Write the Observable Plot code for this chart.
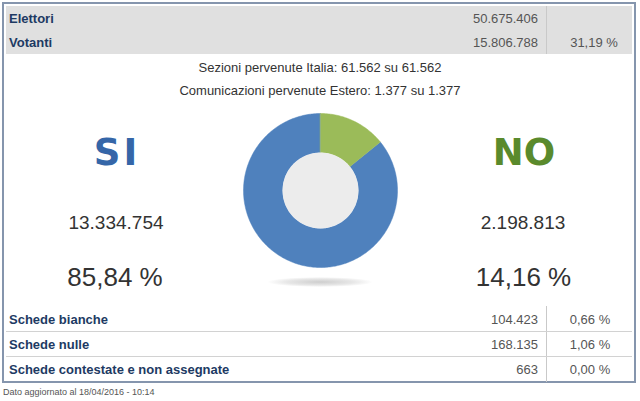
<!DOCTYPE html>
<html>
<head>
<meta charset="utf-8">
<script src="https://cdn.jsdelivr.net/npm/d3@7"></script>
<script src="https://cdn.jsdelivr.net/npm/@observablehq/plot@0.6"></script>
<style>
  html, body { margin: 0; padding: 0; background: #fff; }
  #root { position: relative; width: 640px; height: 401px; overflow: hidden; font-family: "Liberation Sans", Arial, sans-serif; }
  .abs { position: absolute; white-space: nowrap; line-height: 1; }
</style>
</head>
<body>
<div id="root"></div>
<script>
// ---- data ----
const categories = ["SI", "NO"];
const votes = [13334754, 2198813];
const voteLabels = ["13.334.754", "2.198.813"];
const percentLabels = ["85,84 %", "14,16 %"];

const headerLabels = ["Elettori", "Votanti"];
const headerValues = ["50.675.406", "15.806.788"];
const headerPercents = ["", "31,19 %"];

const infoLines = ["Sezioni pervenute Italia: 61.562 su 61.562", "Comunicazioni pervenute Estero: 1.377 su 1.377"];

const schedeLabels = ["Schede bianche", "Schede nulle", "Schede contestate e non assegnate"];
const schedeValues = ["104.423", "168.135", "663"];
const schedePercents = ["0,66 %", "1,06 %", "0,00 %"];

const footer = "Dato aggiornato al 18/04/2016 - 10:14";

// ---- layout helpers ----
const root = document.getElementById("root");
function box(css) {
  const d = document.createElement("div");
  d.style.position = "absolute";
  Object.assign(d.style, css);
  root.appendChild(d);
  return d;
}
function text(str, css, anchor) {
  const d = document.createElement("div");
  d.className = "abs";
  d.textContent = str;
  Object.assign(d.style, css);
  if (anchor === "middle") d.style.transform = "translate(-50%,-50%)";
  else d.style.transform = "translateY(-50%)";
  root.appendChild(d);
  return d;
}

// outer frame
box({left: "2px", top: "2px", width: "630px", height: "377px", border: "2px solid #8595ad"});
// header band
box({left: "6px", top: "6px", width: "626px", height: "48px", background: "#e0e0e0"});
box({left: "546px", top: "6px", width: "1px", height: "48px", background: "#c9c9c9"});

const navy = "#1d3a63";
headerLabels.forEach((l, i) => {
  const y = 18 + i * 24;
  text(l, {left: "9px", top: y + "px", fontSize: "13px", fontWeight: "bold", color: navy});
  text(headerValues[i], {right: "102px", top: y + "px", fontSize: "13px", color: "#555"});
  if (headerPercents[i]) text(headerPercents[i], {left: "594px", top: y + "px", fontSize: "13px", color: "#555"}, "middle");
});

infoLines.forEach((l, i) => {
  text(l, {left: "320px", top: (67 + i * 23) + "px", fontSize: "13px", color: "#333"}, "middle");
});

// SI / NO columns
const catColors = ["#3566a8", "#5a8a2c"];
const colX = [117, 524];
categories.forEach((c, i) => {
  text(c, {left: colX[i] + "px", top: "151.5px", fontSize: "37px", fontWeight: "bold", color: catColors[i],
    fontFamily: "'DejaVu Sans', Verdana, sans-serif", letterSpacing: i === 0 ? "3px" : "0px"}, "middle");
  text(voteLabels[i], {left: (i === 0 ? 116 : 523) + "px", top: "221.5px", fontSize: "19px", color: "#333"}, "middle");
  text(percentLabels[i], {left: (i === 0 ? 115 : 523.5) + "px", top: "276.5px", fontSize: "26px", color: "#333"}, "middle");
});

// shadow under donut
box({left: "268px", top: "277px", width: "104px", height: "10px", borderRadius: "50%",
  background: "radial-gradient(ellipse at center, rgba(200,200,200,0.9) 0%, rgba(215,215,215,0.6) 45%, rgba(255,255,255,0) 72%)"});

// ---- donut via Plot ----
const rOuter = 77, rInner = 38;
const slices = categories.map((cat, i) => ({cat, votes: votes[i]}));
const pie = d3.pie().value(d => d.votes).sort((a, b) => a.votes - b.votes)(slices);
const ringPoints = [];
pie.forEach(arc => {
  const cat = arc.data.cat;
  const steps = Math.max(8, Math.ceil((arc.endAngle - arc.startAngle) * 60));
  const angles = d3.range(steps + 1).map(k => arc.startAngle + (arc.endAngle - arc.startAngle) * k / steps);
  angles.forEach(a => ringPoints.push({cat, x: rOuter * Math.sin(a), y: rOuter * Math.cos(a)}));
  angles.slice().reverse().forEach(a => ringPoints.push({cat, x: rInner * Math.sin(a), y: rInner * Math.cos(a)}));
});

const chart = Plot.plot({
  width: 180,
  height: 180,
  margin: 0,
  x: {domain: [-90, 90], axis: null},
  y: {domain: [-90, 90], axis: null},
  color: {domain: categories, range: ["#4f81bd", "#9bbb59"]},
  marks: [
    Plot.line(ringPoints, {x: "x", y: "y", z: "cat", fill: "cat", stroke: "cat", strokeWidth: 0.5, curve: "linear-closed"}),
    Plot.dot([0], {x: () => 0, y: () => 0, r: rInner, fill: "#ececec", stroke: "none"})
  ]
});
chart.style.position = "absolute";
chart.style.left = "230px";
chart.style.top = "100px";
chart.style.background = "transparent";
root.appendChild(chart);

// ---- schede table ----
box({left: "546px", top: "306px", width: "1px", height: "76px", background: "#c9c9c9"});
[331, 356].forEach(y => box({left: "6px", top: y + "px", width: "626px", height: "1px", background: "#d2d2d2"}));
schedeLabels.forEach((l, i) => {
  const y = 319 + i * 25;
  text(l, {left: "9px", top: y + "px", fontSize: "13px", fontWeight: "bold", color: navy});
  text(schedeValues[i], {right: "102px", top: y + "px", fontSize: "13px", color: "#555"});
  text(schedePercents[i], {left: "590px", top: y + "px", fontSize: "13px", color: "#555"}, "middle");
});

text(footer, {left: "3px", top: "392px", fontSize: "9px", color: "#555"});
</script>
</body>
</html>
